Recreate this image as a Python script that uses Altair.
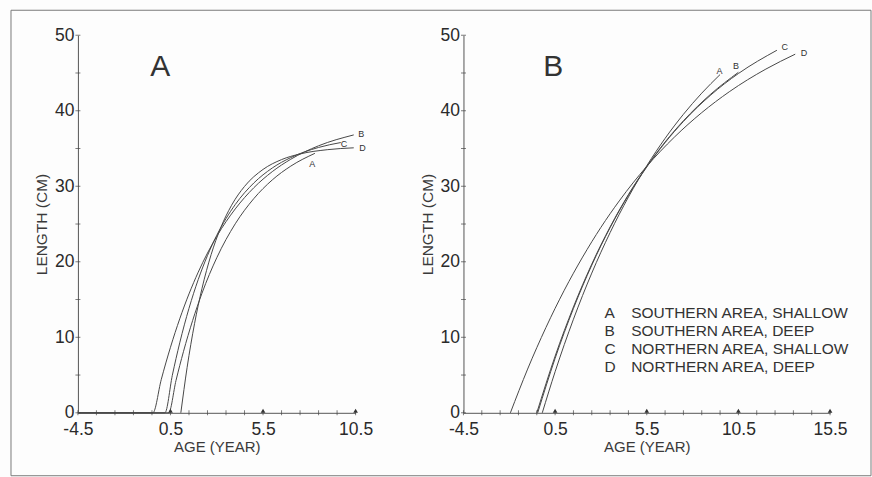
import altair as alt
import pandas as pd

FONT = "Liberation Sans"
INK = "#474747"

# ---------------- Panel A (growth curves) ----------------
pa_A_age = [-4.5, 0.4, 0.8, 1.2, 1.7, 2.2, 3.0, 4.0, 5.0, 6.0, 7.0, 8.3]
pa_A_len = [0, 0, 4.29, 8.09, 12.24, 15.82, 20.53, 25.03, 28.36, 30.84, 32.67, 34.36]
pa_B_age = [-4.5, -0.45, 0.0, 0.5, 1.0, 1.5, 2.0, 3.0, 4.0, 5.0, 6.0, 7.0, 8.5, 10.4]
pa_B_len = [0, 0, 4.38, 8.68, 12.44, 15.74, 18.63, 23.37, 27.00, 29.80, 31.94, 33.58, 35.36, 36.80]
pa_C_age = [-4.5, 0.2, 0.6, 1.0, 1.5, 2.0, 2.5, 3.0, 4.0, 5.0, 6.0, 7.0, 8.5, 9.7]
pa_C_len = [0, 0, 4.96, 9.26, 13.83, 17.65, 20.83, 23.50, 27.58, 30.43, 32.42, 33.80, 35.14, 35.79]
pa_D_age = [1.06, 1.4, 1.8, 2.2, 2.7, 3.2, 3.8, 4.5, 5.5, 6.5, 7.5, 9.0, 10.4]
pa_D_len = [0, 6.02, 11.80, 16.44, 20.98, 24.42, 27.48, 29.98, 32.23, 33.53, 34.28, 34.85, 35.09]

# ---------------- Panel B (growth curves) ----------------
pb_A_age = [-0.2, 0.5, 1.5, 2.5, 3.5, 4.5, 5.5, 6.5, 7.5, 8.5, 9.5]
pb_A_len = [0, 5.44, 12.39, 18.50, 23.86, 28.57, 32.71, 36.34, 39.53, 42.33, 44.79]
pb_B_age = [-0.5, 0.5, 1.5, 2.5, 3.5, 4.5, 5.5, 6.5, 7.5, 9.0, 10.5]
pb_B_len = [0, 7.50, 14.02, 19.69, 24.61, 28.90, 32.62, 35.86, 38.67, 42.22, 45.09]
pb_C_age = [-0.45, 0.5, 1.5, 2.5, 3.5, 4.5, 5.5, 6.5, 7.5, 9.0, 10.5, 12.6]
pb_C_len = [0, 7.21, 13.82, 19.55, 24.52, 28.82, 32.55, 35.78, 38.58, 42.10, 44.93, 48.01]
pb_D_age = [-1.94, -1.0, 0.0, 1.0, 2.0, 3.0, 4.0, 5.5, 7.0, 8.5, 10.0, 12.0, 13.6]
pb_D_len = [0, 5.79, 11.30, 16.23, 20.62, 24.56, 28.06, 32.64, 36.49, 39.75, 42.51, 45.52, 47.49]

# curve-end labels
pa_lab_text = ["A", "B", "C", "D"]
pa_lab_x = [8.0, 10.65, 9.7, 10.7]
pa_lab_y = [33.0, 36.9, 35.6, 35.0]
pb_lab_text = ["A", "B", "C", "D"]
pb_lab_x = [9.3, 10.2, 12.85, 13.9]
pb_lab_y = [45.2, 45.9, 48.5, 47.6]

# legend (panel B)
legend_keys = ["A", "B", "C", "D"]
legend_names = ["SOUTHERN AREA, SHALLOW", "SOUTHERN AREA, DEEP",
                "NORTHERN AREA, SHALLOW", "NORTHERN AREA, DEEP"]
legend_y = [13.2, 10.8, 8.4, 6.0]

# axes
x_labels_A = [-4.5, 0.5, 5.5, 10.5]
x_labels_B = [-4.5, 0.5, 5.5, 10.5, 15.5]
x_minor_A = [-4.5, -3.5, -2.5, -1.5, -0.5, 0.5, 1.5, 2.5, 3.5, 4.5, 5.5, 6.5, 7.5, 8.5, 9.5, 10.5]
x_minor_B = x_minor_A + [11.5, 12.5, 13.5, 14.5, 15.5]
y_labels = [0, 10, 20, 30, 40, 50]
y_minor = [0, 5, 10, 15, 20, 25, 30, 35, 40, 45, 50]


def curves_df(series):
    rows = []
    for name, ages, lens in series:
        for a, l in zip(ages, lens):
            rows.append({"curve": name, "age": a, "length": l})
    return pd.DataFrame(rows)


def panel(series, xmax, x_labels, x_minor, letter, letter_x, lab_text, lab_x, lab_y,
          width, legend=False, frame=False):
    xs = alt.Scale(domain=[-4.5, xmax], nice=False, zero=False)
    ys = alt.Scale(domain=[0, 50], nice=False)
    xaxis = alt.Axis(values=x_labels, labelExpr="toString(datum.value)", title="AGE (YEAR)",
                     ticks=False, grid=False, labelFontSize=17.5, titleFontSize=15,
                     labelPadding=8, titlePadding=1, domainColor="#555555",
                     labelColor="#2a2a2a", titleColor="#3a3a3a", labelFont=FONT,
                     titleFont=FONT, titleFontWeight="normal", labelOverlap=False,
                     labelFlush=False)
    yaxis = alt.Axis(values=y_labels, title="LENGTH (CM)", ticks=False, grid=False,
                     labelFontSize=17.5, titleFontSize=15.5, labelPadding=4, titlePadding=5,
                     domainColor="#555555", labelColor="#2a2a2a", titleColor="#3a3a3a",
                     labelFont=FONT, titleFont=FONT, titleFontWeight="normal",
                     labelFlush=False)

    def X():
        return alt.X("age:Q", scale=xs, axis=xaxis)

    def Y():
        return alt.Y("length:Q", scale=ys, axis=yaxis)

    df = curves_df(series)
    lines = alt.Chart(df).mark_line(color=INK, strokeWidth=1, interpolate="monotone").encode(
        x=X(), y=Y(), detail="curve:N", order="age:Q")

    xt = alt.Chart(pd.DataFrame({"age": x_minor, "length": [0] * len(x_minor)})).mark_tick(
        orient="vertical", size=5, thickness=1, color="#444444").encode(x=X(), y=Y())
    yt = alt.Chart(pd.DataFrame({"length": y_minor, "age": [-4.5] * len(y_minor)})).mark_tick(
        orient="horizontal", size=5, thickness=1, color="#444444").encode(x=X(), y=Y())
    tri_vals = x_labels[1:]
    tri = alt.Chart(pd.DataFrame({"age": tri_vals, "length": [0] * len(tri_vals)})).mark_point(
        shape="triangle-up", filled=True, size=22, color="#333333", opacity=1, yOffset=-2).encode(
        x=X(), y=Y())

    big = alt.Chart(pd.DataFrame({"s": [letter], "age": [letter_x], "length": [44.6]})).mark_text(
        font=FONT, fontSize=30, color="#333333", align="center", baseline="alphabetic").encode(
        x=X(), y=Y(), text="s:N")

    labs = alt.Chart(pd.DataFrame({"s": lab_text, "age": lab_x, "length": lab_y})).mark_text(
        font=FONT, fontSize=9, color="#333333", align="left", baseline="middle").encode(
        x=X(), y=Y(), text="s:N")

    layers = [lines, xt, yt, tri, big, labs]
    if legend:
        lk = alt.Chart(pd.DataFrame({"s": legend_keys, "age": [3.2] * 4, "length": legend_y})).mark_text(
            font=FONT, fontSize=15.5, color="#333333", align="left", baseline="middle").encode(
            x=X(), y=Y(), text="s:N")
        ln = alt.Chart(pd.DataFrame({"s": legend_names, "age": [4.65] * 4, "length": legend_y})).mark_text(
            font=FONT, fontSize=15.5, color="#333333", align="left", baseline="middle").encode(
            x=X(), y=Y(), text="s:N")
        layers += [lk, ln]
    if frame:
        # decorative page frame around the whole figure (scanned-page border)
        fr = alt.Chart(pd.DataFrame({"k": [0]})).mark_rect(
            filled=False, stroke="#7a7a7a", strokeWidth=1, clip=False).encode(
            x=alt.value(-67), x2=alt.value(794), y=alt.value(-25), y2=alt.value(441))
        layers = [fr] + layers
    return alt.layer(*layers).properties(width=width, height=378)


pA = panel([("A", pa_A_age, pa_A_len), ("B", pa_B_age, pa_B_len),
            ("C", pa_C_age, pa_C_len), ("D", pa_D_age, pa_D_len)],
           10.5, x_labels_A, x_minor_A, "A", -0.05, pa_lab_text, pa_lab_x, pa_lab_y, 278,
           frame=True)
pB = panel([("A", pb_A_age, pb_A_len), ("B", pb_B_age, pb_B_len),
            ("C", pb_C_age, pb_C_len), ("D", pb_D_age, pb_D_len)],
           15.5, x_labels_B, x_minor_B, "B", 0.4, pb_lab_text, pb_lab_x, pb_lab_y, 367,
           legend=True)

chart = alt.hconcat(pA, pB, spacing=108, bounds="flush").properties(
    padding={"left": 10, "top": 9, "right": 0, "bottom": 0},
    background="#fdfdfd",
).configure_view(stroke=None)

chart.save("out.html", embed_options={"renderer": "svg", "actions": False})
